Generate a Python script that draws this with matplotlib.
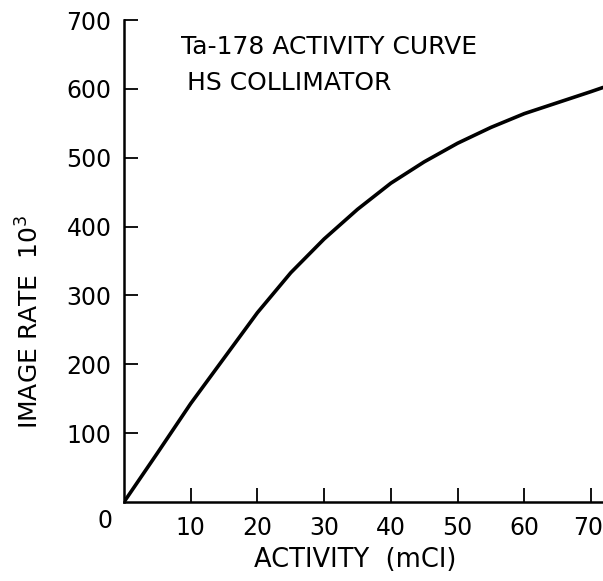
import matplotlib.pyplot as plt
import matplotlib.transforms as mtransforms
import numpy as np

# activity (mCi) vs image rate (x10^3)
activity = [0, 5, 10, 15, 20, 25, 30, 35, 40, 45, 50, 55, 60, 65, 70, 71.8]
image_rate = [0, 71, 143, 209, 275, 333, 382, 425, 463, 494, 521, 544, 564, 580, 596, 602]

x_ticks = [10, 20, 30, 40, 50, 60, 70]
y_ticks = [100, 200, 300, 400, 500, 600, 700]

fig = plt.figure(figsize=(6.03, 5.81), dpi=100)
ax = fig.add_axes([124 / 603, 1 - 502 / 581, 479 / 603, 482 / 581])

ax.plot(activity, image_rate, color="black", lw=2.6,
        solid_capstyle="round", solid_joinstyle="round")

ax.set_xlim(0, 71.8)
ax.set_ylim(0, 700)
ax.spines["top"].set_visible(False)
ax.spines["right"].set_visible(False)
ax.spines["left"].set_linewidth(1.8)
ax.spines["bottom"].set_linewidth(1.8)

ax.set_xticks(x_ticks)
ax.set_yticks(y_ticks)
ax.tick_params(direction="in", length=10, width=1.3, labelsize=17, pad=10)
ax.tick_params(axis="y", pad=9)

# last x label sits right at the edge, nudge it in a little
last = ax.get_xticklabels()[-1]
last.set_transform(last.get_transform() +
                   mtransforms.ScaledTranslation(-3 / 100, 0, fig.dpi_scale_trans))

# lone zero below the origin
ax.annotate("0", xy=(0, 0), xytext=(-14, -14), textcoords="offset points",
            fontsize=17, ha="center", va="center")

ax.text(8.5, 661, "Ta-178 ACTIVITY CURVE", fontsize=18, va="center")
ax.text(9.5, 608, "HS COLLIMATOR", fontsize=18, va="center")

fig.text(355 / 603, 1 - 560 / 581, "ACTIVITY  (mCI)", fontsize=18.5,
         ha="center", va="center")
fig.text(30 / 603, 1 - 322 / 581, r"IMAGE RATE  10$^{3}$", fontsize=18,
         rotation=90, ha="center", va="center")

fig.savefig("out.png", dpi=100)
